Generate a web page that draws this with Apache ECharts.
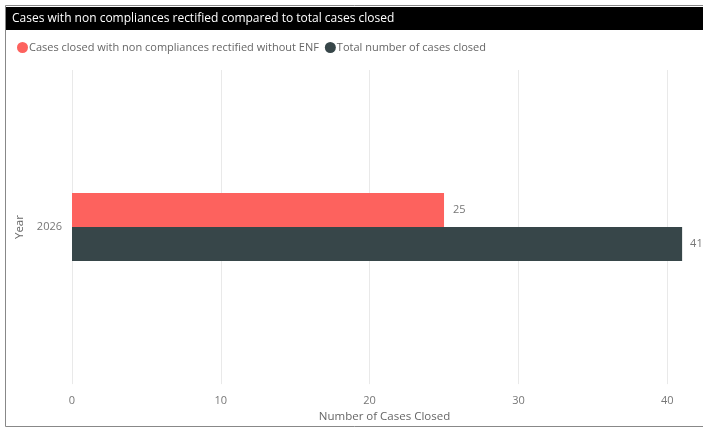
<!DOCTYPE html>
<html>
<head>
<meta charset="utf-8">
<script src="https://cdn.jsdelivr.net/npm/echarts@6/dist/echarts.min.js"></script>
<style>
html,body{margin:0;padding:0;background:#fff;}
#c{width:703px;height:428px;}
</style>
</head>
<body>
<div id="c"></div>
<script>
const titleText = "Cases with non compliances rectified compared to total cases closed";
const categories = ["2026"];
const seriesNames = ["Cases closed with non compliances rectified without ENF", "Total number of cases closed"];
const rectifiedValues = [25];
const totalValues = [41];
const xTicks = [0, 10, 20, 30, 40];

const FONT = "'Open Sans', 'Noto Sans', sans-serif";
const chart = echarts.init(document.getElementById('c'), null, {renderer: 'canvas'});
chart.setOption({
  animation: false,
  textStyle: {fontFamily: FONT},
  graphic: [
    {type: 'rect', shape: {x: 5.5, y: 5.5, width: 720, height: 421}, style: {fill: 'none', stroke: '#888', lineWidth: 1}},
    {type: 'rect', shape: {x: 6, y: 7, width: 700, height: 23}, style: {fill: '#000'}},
    {type: 'text', x: 12, y: 18.5, style: {text: titleText, fill: '#fff', font: '12px ' + FONT, textVerticalAlign: 'middle'}}
  ],
  legend: {
    left: 12, top: 37,
    icon: 'circle', itemWidth: 11, itemHeight: 11, itemGap: 6,
    textStyle: {color: '#666', fontSize: 11, fontFamily: FONT, padding: [0, 0, 0, -4]},
    data: seriesNames
  },
  grid: {left: 72, top: 70, width: 625, height: 320, containLabel: false},
  xAxis: {
    type: 'value', min: 0, max: 42, interval: 10,
    name: 'Number of Cases Closed', nameLocation: 'middle', nameGap: 21,
    nameTextStyle: {color: '#666', fontSize: 11.5, fontFamily: FONT},
    axisLine: {show: false}, axisTick: {show: false},
    axisLabel: {color: '#777', fontSize: 11, margin: 11, showMaxLabel: false,
      formatter: v => xTicks.includes(v) ? String(v) : ''},
    splitLine: {show: true, showMaxLine: false, lineStyle: {color: '#e9e9e9', width: 1}}
  },
  yAxis: {
    type: 'category', data: categories,
    name: 'Year', nameLocation: 'middle', nameGap: 46, nameRotate: 90,
    nameTextStyle: {color: '#666', fontSize: 11.5, fontFamily: FONT},
    axisLine: {show: false}, axisTick: {show: false},
    axisLabel: {color: '#777', fontSize: 11, margin: 10}
  },
  series: [
    {name: seriesNames[0], type: 'bar', data: rectifiedValues, barWidth: 34, barGap: '0%',
      itemStyle: {color: '#FD625E'},
      label: {show: true, position: 'right', distance: 9, color: '#777', fontSize: 11}},
    {name: seriesNames[1], type: 'bar', data: totalValues, barWidth: 34, barGap: '0%',
      itemStyle: {color: '#374649'},
      label: {show: true, position: 'right', distance: 8, color: '#777', fontSize: 11}}
  ]
});
</script>
</body>
</html>
